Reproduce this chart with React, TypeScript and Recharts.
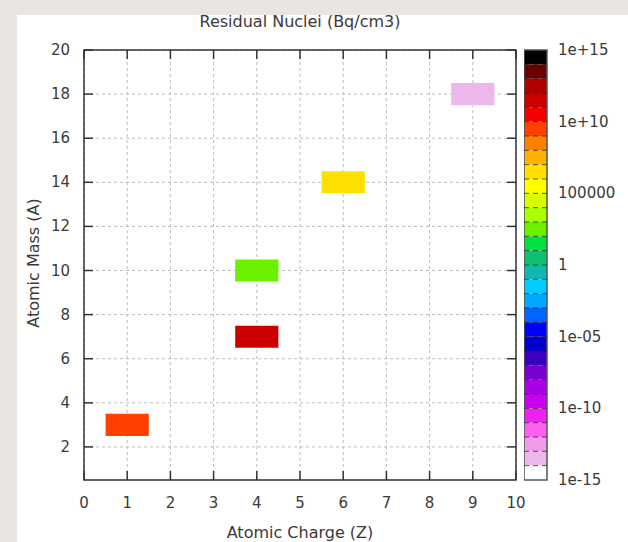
import React from "react";
import {
  ComposedChart,
  XAxis,
  YAxis,
  CartesianGrid,
  ReferenceArea,
  ReferenceLine,
} from "recharts";

// residual nuclides: charge Z, mass A, activity in Bq/cm3
const nuclideZ = [1, 4, 4, 6, 9];
const nuclideA = [3, 7, 10, 14, 18];
const activity = [2e9, 5e11, 4e2, 2e6, 5e-14];

const zTicks = [0, 1, 2, 3, 4, 5, 6, 7, 8, 9, 10];
const aTicks = [2, 4, 6, 8, 10, 12, 14, 16, 18, 20];

// colour box: one step per decade, listed from 1e+15 down to 1e-15
const decadeColors = [
  "#000000", "#6a0000", "#b20000", "#cc0000", "#f20000", "#ff4000",
  "#ff8000", "#ffb000", "#ffe000", "#ffff00", "#d8ff00", "#aaff00",
  "#6cf000", "#00e040", "#10c070", "#10b8b0", "#00ccff", "#00a8ff",
  "#0066ff", "#0000ff", "#0000d0", "#3c00c0", "#7a00d0", "#a800e8",
  "#cc00f0", "#f020f0", "#ff60f0", "#f09ce8", "#ecb8ec", "#ffffff",
];
const cbTickExps = [15, 10, 5, 0, -5, -10, -15];
const cbTickLabels = ["1e+15", "1e+10", "100000", "1", "1e-05", "1e-10", "1e-15"];
const cbBoundaries = [-14, -13, -12, -11, -10, -9, -8, -7, -6, -5, -4, -3, -2, -1, 0, 1, 2, 3, 4, 5, 6, 7, 8, 9, 10, 11, 12, 13, 14];

const W = 628;
const H = 542;
const PLOT = { left: 84, top: 50, right: 516, bottom: 480 };
const CB = { left: 524, right: 547 };
const TICK_LEN = 9;
const FONT = "'DejaVu Sans', sans-serif";
const TEXT = "#3a3a3a";

const colorFor = (v: number) => {
  const e = Math.floor(Math.log10(v));
  const idx = Math.min(decadeColors.length - 1, Math.max(0, 14 - e));
  return decadeColors[idx];
};

const cells = nuclideZ.map((z, i) => ({
  z,
  a: nuclideA[i],
  fill: colorFor(activity[i]),
}));

function ZTick(props: any) {
  const { x, y, payload } = props;
  return (
    <g>
      <line x1={x} x2={x} y1={PLOT.bottom} y2={PLOT.bottom - TICK_LEN} stroke="#333" strokeWidth={1.5} />
      <line x1={x} x2={x} y1={PLOT.top} y2={PLOT.top + TICK_LEN} stroke="#333" strokeWidth={1.5} />
      <text x={x} y={y} textAnchor="middle" dominantBaseline="central" fill={TEXT} fontSize={15} fontFamily={FONT}>
        {payload.value}
      </text>
    </g>
  );
}

function ATick(props: any) {
  const { x, y, payload } = props;
  return (
    <g>
      <line x1={PLOT.left} x2={PLOT.left + TICK_LEN} y1={y} y2={y} stroke="#333" strokeWidth={1.5} />
      <line x1={PLOT.right - TICK_LEN} x2={PLOT.right} y1={y} y2={y} stroke="#333" strokeWidth={1.5} />
      <text x={x} y={y} textAnchor="end" dominantBaseline="central" fill={TEXT} fontSize={15} fontFamily={FONT}>
        {payload.value}
      </text>
    </g>
  );
}

function CbTick(props: any) {
  const { x, y, payload } = props;
  const i = cbTickExps.indexOf(payload.value);
  return (
    <text x={x} y={y} textAnchor="start" dominantBaseline="central" fill={TEXT} fontSize={15} fontFamily={FONT}>
      {cbTickLabels[i]}
    </text>
  );
}

export default function App() {
  const yAxisW = 40;
  const xAxisH = 40;
  const cbWidth = W - CB.left;
  const cbAxisW = cbWidth - (CB.right - CB.left);

  return (
    <div
      style={{
        position: "absolute",
        left: 0,
        top: 0,
        width: W,
        height: H,
        background: "#e8e5e2",
        overflow: "hidden",
        fontFamily: FONT,
      }}
    >
      <div style={{ position: "absolute", left: 17, top: 15, right: 0, bottom: 0, background: "#fff" }} />

      <div
        style={{
          position: "absolute",
          left: 0,
          width: 600,
          top: 12,
          textAlign: "center",
          fontSize: 16,
          color: TEXT,
        }}
      >
        Residual Nuclei (Bq/cm3)
      </div>

      <div
        style={{
          position: "absolute",
          left: 0,
          width: 600,
          top: 523,
          textAlign: "center",
          fontSize: 16,
          color: TEXT,
        }}
      >
        Atomic Charge (Z)
      </div>

      <div
        style={{
          position: "absolute",
          left: 33,
          top: 263,
          fontSize: 16,
          color: TEXT,
          whiteSpace: "nowrap",
          transform: "translate(-50%, -50%) rotate(-90deg)",
        }}
      >
        Atomic Mass (A)
      </div>

      <div style={{ position: "absolute", left: 0, top: 0 }}>
        <ComposedChart
          width={W}
          height={H}
          data={cells}
          margin={{
            top: PLOT.top,
            right: W - PLOT.right,
            bottom: H - PLOT.bottom - xAxisH,
            left: PLOT.left - yAxisW,
          }}
        >
          <CartesianGrid stroke="#bdbdbd" strokeDasharray="3 3" />
          <XAxis
            dataKey="z"
            type="number"
            domain={[0, 10]}
            ticks={zTicks}
            height={xAxisH}
            axisLine={false}
            tickLine={false}
            tickSize={0}
            tickMargin={23}
            tick={<ZTick />}
            allowDataOverflow
          />
          <YAxis
            dataKey="a"
            type="number"
            domain={[0.5, 20]}
            ticks={aTicks}
            width={yAxisW}
            axisLine={false}
            tickLine={false}
            tickSize={0}
            tickMargin={14}
            tick={<ATick />}
            allowDataOverflow
          />
          {cells.map((c, i) => (
            <ReferenceArea
              key={i}
              x1={c.z - 0.5}
              x2={c.z + 0.5}
              y1={c.a - 0.5}
              y2={c.a + 0.5}
              fill={c.fill}
              fillOpacity={1}
              stroke="none"
            />
          ))}
          <ReferenceArea x1={0} x2={10} y1={0.5} y2={20} fill="none" stroke="#333" strokeWidth={1.5} />
        </ComposedChart>
      </div>

      <div style={{ position: "absolute", left: CB.left, top: 0 }}>
        <ComposedChart
          width={cbWidth}
          height={H}
          data={cells}
          margin={{ top: PLOT.top, right: 0, bottom: H - PLOT.bottom, left: 0 }}
        >
          <XAxis type="number" dataKey="z" domain={[0, 1]} hide allowDataOverflow />
          <YAxis
            type="number"
            orientation="right"
            domain={[-15, 15]}
            ticks={cbTickExps}
            width={cbAxisW}
            axisLine={false}
            tickLine={false}
            tickSize={0}
            tickMargin={11}
            tick={<CbTick />}
            allowDataOverflow
          />
          {decadeColors.map((col, i) => (
            <ReferenceArea
              key={col + i}
              x1={0}
              x2={1}
              y1={14 - i}
              y2={15 - i}
              fill={col}
              fillOpacity={1}
              stroke="none"
            />
          ))}
          {cbBoundaries.map((b) => (
            <ReferenceLine key={b} y={b} stroke="#222" strokeOpacity={0.75} strokeDasharray="5 4" />
          ))}
          <ReferenceArea x1={0} x2={1} y1={-15} y2={15} fill="none" stroke="#555" strokeWidth={1.5} />
        </ComposedChart>
      </div>
    </div>
  );
}
